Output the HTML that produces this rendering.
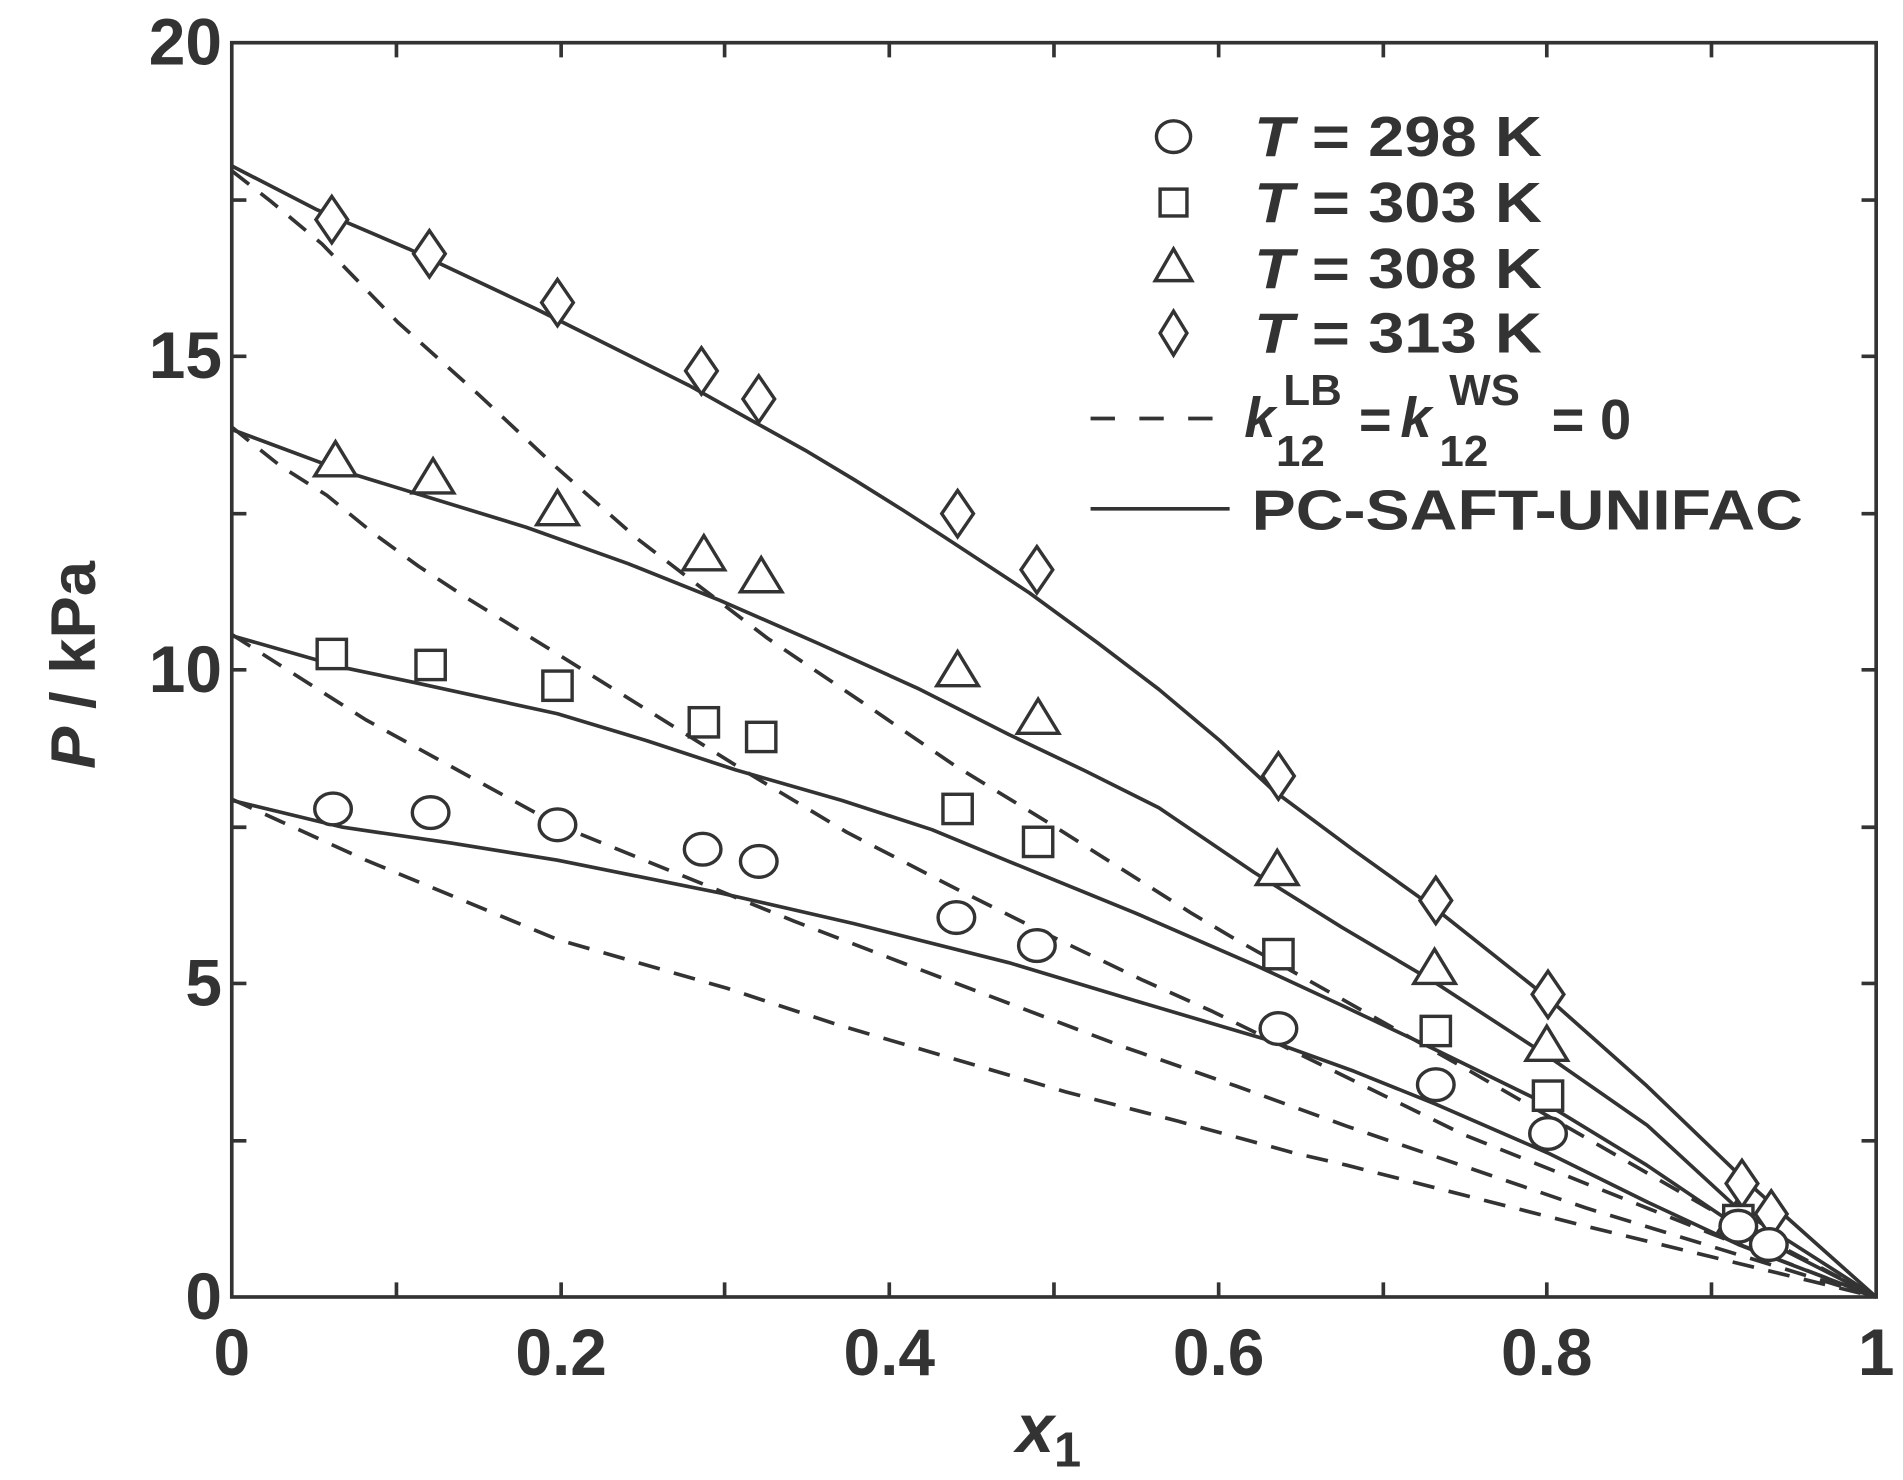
<!DOCTYPE html>
<html><head><meta charset="utf-8"><style>html,body{margin:0;padding:0;background:#fff}svg{display:block}</style></head><body>
<svg width="1903" height="1480" viewBox="0 0 1560 1213" preserveAspectRatio="none" xmlns="http://www.w3.org/2000/svg" font-family="Liberation Sans, sans-serif" font-weight="bold" fill="#333">
<rect width="1560" height="1213" fill="#fff"/>
<g stroke="#333" stroke-width="3" fill="none">
<rect x="190" y="35" width="1348" height="1028"/>
<path d="M325,1063v-12M460,1063v-12M594,1063v-12M729,1063v-12M864,1063v-12M999,1063v-12M1134,1063v-12M1268,1063v-12M1403,1063v-12
M325,35v12M460,35v12M594,35v12M729,35v12M864,35v12M999,35v12M1134,35v12M1268,35v12M1403,35v12
M190,935h12M190,806h12M190,678h12M190,549h12M190,421h12M190,292h12M190,164h12
M1538,935h-12M1538,806h-12M1538,678h-12M1538,549h-12M1538,421h-12M1538,292h-12M1538,164h-12"/>
</g>
<g stroke="#333" stroke-width="3" fill="none" stroke-linejoin="round">
<polyline points="190,136 260,172 335,204 439,253 565,316 615,344 660,369 700,393 740,418 774,440 844,486 900,527 950,565 1000,607 1044,648 1110,697 1177,745 1269,818 1350,890 1428,965 1538,1063"/>
<polyline points="190,352 284,387 431,432 515,462 590,492 670,527 752,564 827,602 890,632 950,662 1028,715 1100,760 1176,805 1268,865 1350,922 1424,990 1538,1063"/>
<polyline points="190,521 281,547 338,559 457,585 530,607 603,631 690,656 764,680 827,706 930,748 1031,792 1100,824 1176,860 1268,905 1350,955 1424,1005 1538,1063"/>
<polyline points="190,656 281,678 370,691 457,705 591,732 700,757 827,789 930,820 1038,852 1110,878 1177,905 1269,945 1350,985 1425,1020 1538,1063"/>
</g>
<g stroke="#333" stroke-width="3" fill="none" stroke-dasharray="18,12" stroke-linejoin="round">
<polyline points="190,140 222,165 264,200 326,264 393,324 456,383 523,442 629,523 706,575 782,627 859,674 976,748 1013,770 1200,875 1400,990 1538,1063"/>
<polyline points="190,350 230,382 268,406 306,437 343,464 381,489 457,536 614,634 694,682 779,726 859,766 936,803 994,829 1200,930 1400,1010 1538,1063"/>
<polyline points="190,520 300,590 457,676 651,755 742,790 834,825 921,858 1013,890 1104,923 1300,990 1538,1063"/>
<polyline points="190,655 300,705 457,770 596,810 687,840 779,867 874,895 966,919 1061,945 1104,955 1300,1005 1538,1063"/>
</g>
<g stroke="#333" stroke-width="2.8" fill="#fff">
<path d="M272,161l13,19l-13,19l-13,-19z"/><path d="M352,189l13,19l-13,19l-13,-19z"/><path d="M457,229l13,19l-13,19l-13,-19z"/><path d="M575,285l13,19l-13,19l-13,-19z"/><path d="M622,308l13,19l-13,19l-13,-19z"/><path d="M785,402l13,19l-13,19l-13,-19z"/><path d="M850,448l13,19l-13,19l-13,-19z"/><path d="M1048,617l13,19l-13,19l-13,-19z"/><path d="M1177,719l13,19l-13,19l-13,-19z"/><path d="M1269,796l13,19l-13,19l-13,-19z"/><path d="M1428,951l13,19l-13,19l-13,-19z"/><path d="M1452,976l13,19l-13,19l-13,-19z"/>
<path d="M275,362l17,28h-34z"/><path d="M355,376l17,28h-34z"/><path d="M457,402l17,28h-34z"/><path d="M577,439l17,28h-34z"/><path d="M624,457l17,28h-34z"/><path d="M785,534l17,28h-34z"/><path d="M851,573l17,28h-34z"/><path d="M1047,697l17,28h-34z"/><path d="M1176,778l17,28h-34z"/><path d="M1268,841l17,28h-34z"/><path d="M1424,984l17,28h-34z"/>
<rect x="260" y="524" width="24" height="24"/><rect x="341" y="533" width="24" height="24"/><rect x="445" y="550" width="24" height="24"/><rect x="565" y="580" width="24" height="24"/><rect x="612" y="592" width="24" height="24"/><rect x="773" y="651" width="24" height="24"/><rect x="839" y="678" width="24" height="24"/><rect x="1036" y="770" width="24" height="24"/><rect x="1165" y="833" width="24" height="24"/><rect x="1257" y="886" width="24" height="24"/><rect x="1413" y="988" width="24" height="24"/>
<ellipse cx="273" cy="663" rx="15" ry="13"/><ellipse cx="353" cy="666" rx="15" ry="13"/><ellipse cx="457" cy="676" rx="15" ry="13"/><ellipse cx="576" cy="696" rx="15" ry="13"/><ellipse cx="622" cy="706" rx="15" ry="13"/><ellipse cx="784" cy="752" rx="15" ry="13"/><ellipse cx="850" cy="775" rx="15" ry="13"/><ellipse cx="1048" cy="843" rx="15" ry="13"/><ellipse cx="1177" cy="889" rx="15" ry="13"/><ellipse cx="1269" cy="929" rx="15" ry="13"/><ellipse cx="1425" cy="1005" rx="15" ry="13"/><ellipse cx="1450" cy="1020" rx="15" ry="13"/>
</g>
<g stroke="#333" stroke-width="2.8" fill="#fff">
<ellipse cx="962" cy="112" rx="14" ry="13"/>
<rect x="951" y="155" width="22" height="22"/>
<path d="M962,204l15,26h-30z"/>
<path d="M962,255l11,18l-11,18l-11,-18z"/>
</g>
<g stroke="#333" stroke-width="3">
<path d="M894,343h20M934,343h20M974,343h20"/>
<path d="M894,417h114"/>
</g>
<g font-size="46">
<text x="1028" y="128" textLength="236" lengthAdjust="spacingAndGlyphs"><tspan font-style="italic">T</tspan> = 298 K</text>
<text x="1028" y="182" textLength="236" lengthAdjust="spacingAndGlyphs"><tspan font-style="italic">T</tspan> = 303 K</text>
<text x="1028" y="236" textLength="236" lengthAdjust="spacingAndGlyphs"><tspan font-style="italic">T</tspan> = 308 K</text>
<text x="1028" y="289" textLength="236" lengthAdjust="spacingAndGlyphs"><tspan font-style="italic">T</tspan> = 313 K</text>
<text x="1026" y="434" textLength="452" lengthAdjust="spacingAndGlyphs">PC-SAFT-UNIFAC</text>
<text x="1020" y="358" font-style="italic">k</text>
<text x="1052" y="332" font-size="36">LB</text>
<text x="1046" y="382" font-size="36">12</text>
<text x="1114" y="360">=</text>
<text x="1148" y="358" font-style="italic">k</text>
<text x="1188" y="332" font-size="36">WS</text>
<text x="1180" y="382" font-size="36">12</text>
<text x="1272" y="360">= 0</text>
</g>
<g font-size="54" text-anchor="end">
<text x="182" y="53">20</text><text x="182" y="310">15</text><text x="182" y="567">10</text><text x="182" y="824">5</text><text x="182" y="1081">0</text>
</g>
<g font-size="54" text-anchor="middle">
<text x="190" y="1127">0</text><text x="460" y="1127">0.2</text><text x="729" y="1127">0.4</text><text x="999" y="1127">0.6</text><text x="1268" y="1127">0.8</text><text x="1538" y="1127">1</text>
</g>
<text x="833" y="1190" font-size="56" font-style="italic">x</text><text x="864" y="1202" font-size="40">1</text>
<text transform="translate(78,545) rotate(-90)" font-size="52" text-anchor="middle"><tspan font-style="italic">P</tspan> / kPa</text>
</svg>
</body></html>
